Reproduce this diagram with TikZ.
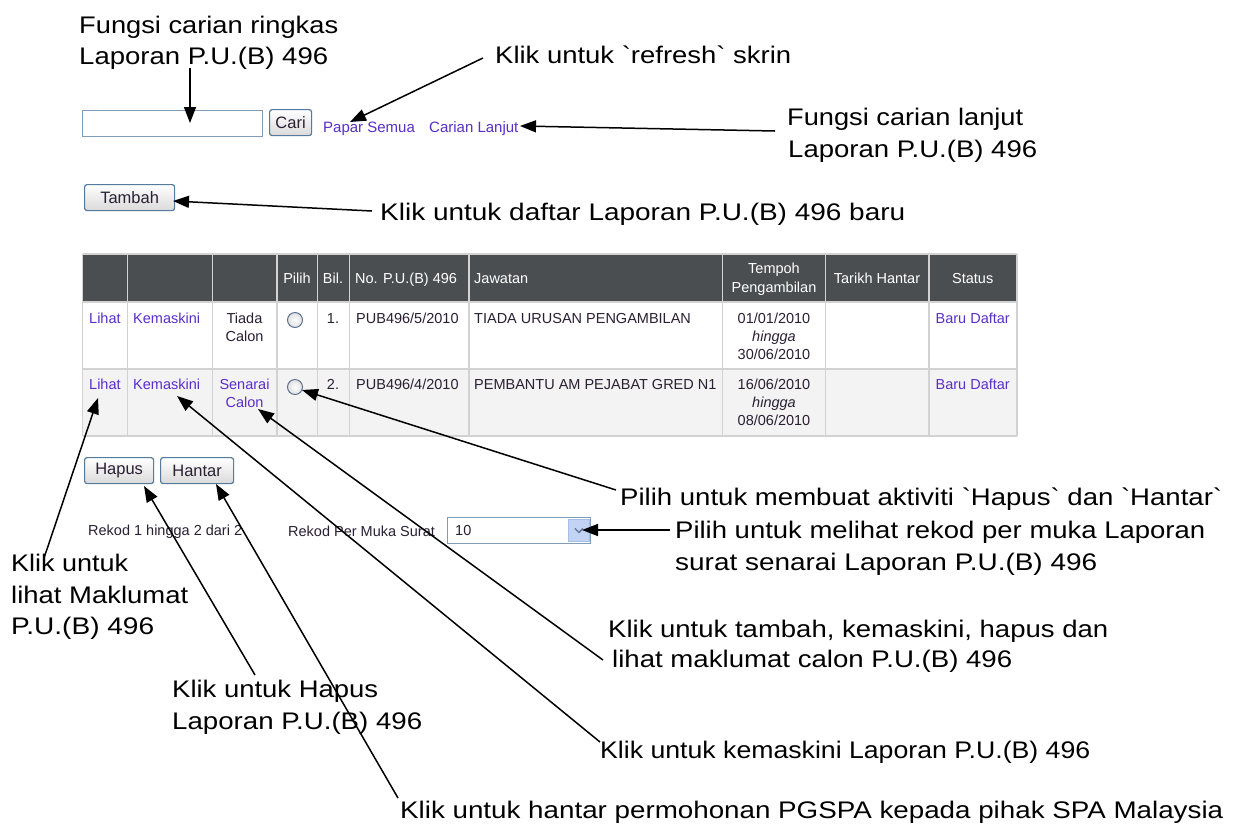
\documentclass[tikz,border=0pt]{standalone}
\usepackage{fontspec}
\setmainfont{Liberation Sans}[Ligatures=TeXOff]
\usetikzlibrary{arrows.meta,calc}
\definecolor{hdr}{HTML}{4B4E51}
\definecolor{gridc}{HTML}{D2D2D2}
\definecolor{rowb}{HTML}{F3F3F3}
\definecolor{lnk}{HTML}{5A2EC8}
\definecolor{txt}{HTML}{2A1F33}
\definecolor{btnb}{HTML}{56799E}
\definecolor{btnbot}{HTML}{DADADA}
\definecolor{fld}{HTML}{7F9DB9}
\definecolor{ddb}{HTML}{C3D3F6}
\definecolor{ddbd}{HTML}{A6BDE6}
\definecolor{radioc}{HTML}{5F7391}
\newcommand\annw[2]{\resizebox{#1pt}{\height}{#2}}
\newcommand\bq{\symbol{96}}
\begin{document}
\begin{tikzpicture}[x=1pt,y=-1pt,
  ann/.style={anchor=base west, inner sep=0pt, font=\fontsize{24}{28}\selectfont},
  callout/.style={line width=1.5pt, -{Triangle[length=16pt,width=12pt]}},
  ui/.style={font=\fontsize{14.5}{17}\selectfont, inner sep=0pt, anchor=base, text=txt},
  uiw/.style={ui, anchor=base west},
  lk/.style={ui, text=lnk},
  lkw/.style={uiw, text=lnk},
  hd/.style={ui, text=white},
  hdw/.style={uiw, text=white},
  btn/.style={draw=btnb, line width=1.2pt, rounded corners=2.5pt, top color=white, bottom color=btnbot,
     anchor=north west, inner sep=0pt, font=\fontsize{16.5}{19}\selectfont, text=txt},
  field/.style={draw=fld, line width=1pt, fill=white, anchor=north west, inner sep=0pt},
  radio/.style={circle, draw=radioc, line width=1pt, inner color=white, outer color=gray!25, minimum size=15pt, inner sep=0pt}
]
\useasboundingbox (0,0) rectangle (1233,828);
\fill[white] (0,0) rectangle (1233,828);

% ---------- search bar ----------
\node[field, minimum width=180pt, minimum height=26pt] (search) at (82,110) {};
\node[btn, minimum width=42pt, minimum height=26pt] (cari) at (269,109) {Cari};
\node[lkw, font=\fontsize{15}{17}\selectfont] (papar) at (323,132) {Papar Semua};
\node[lkw, font=\fontsize{15}{17}\selectfont] (lanjut) at (429,132) {Carian Lanjut};
\node[btn, minimum width=90pt, minimum height=26pt] (tambah) at (84,184) {Tambah};

% ---------- table ----------
\fill[hdr] (82.5,254) rectangle (1016.7,302);
\fill[white] (82.5,302) rectangle (1016.7,369);
\fill[rowb] (82.5,369) rectangle (1016.7,436);
\foreach \xx in {82.5,127.3,212.3,276.7,317.3,349.3,468.7,722.3,825.3,928.7,1016.7}
  \draw[gridc, line width=1.6pt] (\xx,254) -- (\xx,436);
\foreach \yy in {254,302,369,436}
  \draw[gridc, line width=1.6pt] (82.5,\yy) -- (1016.7,\yy);

% header
\node[hd] (hpilih) at (297,283) {Pilih};
\node[hd] (hbil) at (333,283) {Bil.};
\node[hdw] (hno) at (355,283) {No. P.U.(B) 496};
\node[hdw] (hjaw) at (474,283) {Jawatan};
\node[hd] (htem1) at (774,273) {Tempoh};
\node[hd] (htem2) at (774,292) {Pengambilan};
\node[hd] (htar) at (877,283) {Tarikh Hantar};
\node[hd] (hsta) at (972.7,283) {Status};

% row 1
\node[lkw] (lihat1) at (89,323) {Lihat};
\node[lkw] (kem1) at (133,323) {Kemaskini};
\node[ui] (tiada1) at (244.5,323) {Tiada};
\node[ui] (tiada2) at (244.5,341) {Calon};
\node[radio] (r1) at (295,320) {};
\node[ui] (bil1) at (333,323) {1.};
\node[uiw] (no1) at (356,323) {PUB496/5/2010};
\node[uiw] (jaw1) at (474,323) {TIADA URUSAN PENGAMBILAN};
\node[ui] (d1a) at (774,323) {01/01/2010};
\node[ui] (d1b) at (774,341) {\itshape hingga};
\node[ui] (d1c) at (774,359) {30/06/2010};
\node[lk] (st1) at (972.7,323) {Baru Daftar};

% row 2
\node[lkw] (lihat2) at (89,389) {Lihat};
\node[lkw] (kem2) at (133,389) {Kemaskini};
\node[lk] (sen1) at (244.5,389) {Senarai};
\node[lk] (sen2) at (244.5,407) {Calon};
\node[radio] (r2) at (295,387) {};
\node[ui] (bil2) at (333,389) {2.};
\node[uiw] (no2) at (356,389) {PUB496/4/2010};
\node[uiw] (jaw2) at (474,389) {PEMBANTU AM PEJABAT GRED N1};
\node[ui] (d2a) at (774,389) {16/06/2010};
\node[ui] (d2b) at (774,407) {\itshape hingga};
\node[ui] (d2c) at (774,425) {08/06/2010};
\node[lk] (st2) at (972.7,389) {Baru Daftar};

% ---------- buttons below ----------
\node[btn, minimum width=69pt, minimum height=26pt] (hapus) at (84,457) {Hapus};
\node[btn, minimum width=73pt, minimum height=26pt] (hantar) at (160,457) {Hantar};

\node[uiw, font=\fontsize{14.5}{17}\selectfont] (rekod) at (88,535) {Rekod 1 hingga 2 dari 2};
\node[uiw, font=\fontsize{14.5}{17}\selectfont] (perm) at (288,536) {Rekod Per Muka Surat};
\node[field, minimum width=143pt, minimum height=26pt] (sel) at (447,517) {};
\node[uiw] (selv) at (455,535) {10};
\node[draw=ddbd, fill=ddb, line width=0.8pt, anchor=north west, minimum width=21pt, minimum height=22pt, inner sep=0pt] (selbtn) at (568,519) {};
\draw[radioc, line width=1.4pt] ($(selbtn.center)+(-4,-2)$) -- ($(selbtn.center)+(0,2)$) -- ($(selbtn.center)+(4,-2)$);

% ---------- annotations ----------
\node[ann] (t1a) at (79,33) {\annw{259}{Fungsi carian ringkas}};
\node[ann] (t1b) at (79,64) {\annw{249}{Laporan P.U.(B) 496}};
\node[ann] (t2) at (495,63) {\annw{296}{Klik untuk \bq refresh\bq\ skrin}};
\node[ann] (t3a) at (787,125) {\annw{236}{Fungsi carian lanjut}};
\node[ann] (t3b) at (788,157) {\annw{249}{Laporan P.U.(B) 496}};
\node[ann] (t4) at (380,220) {\annw{525}{Klik untuk daftar Laporan P.U.(B) 496 baru}};
\node[ann] (t5) at (620,505) {\annw{602}{Pilih untuk membuat aktiviti \bq Hapus\bq\ dan \bq Hantar\bq}};
\node[ann] (t6a) at (675,538) {\annw{530}{Pilih untuk melihat rekod per muka Laporan}};
\node[ann] (t6b) at (675,570) {\annw{422}{surat senarai Laporan P.U.(B) 496}};
\node[ann] (t7a) at (11,571) {\annw{117}{Klik untuk}};
\node[ann] (t7b) at (11,603) {\annw{177}{lihat Maklumat}};
\node[ann] (t7c) at (11,634) {\annw{143}{P.U.(B) 496}};
\node[ann] (t8a) at (608,637) {\annw{500}{Klik untuk tambah, kemaskini, hapus dan}};
\node[ann] (t8b) at (612,667) {\annw{400}{lihat maklumat calon P.U.(B) 496}};
\node[ann] (t9a) at (172,697) {\annw{206}{Klik untuk Hapus}};
\node[ann] (t9b) at (172,729) {\annw{250}{Laporan P.U.(B) 496}};
\node[ann] (t10) at (600,758) {\annw{490}{Klik untuk kemaskini Laporan P.U.(B) 496}};
\node[ann] (t11) at (400,818) {\annw{823}{Klik untuk hantar permohonan PGSPA kepada pihak SPA Malaysia}};

% ---------- connectors ----------
\coordinate (a1) at (190,68);   \coordinate (b1) at (190,123);
\coordinate (a2) at (483,58);   \coordinate (b2) at (350,122);
\coordinate (a3) at (775,131);  \coordinate (b3) at (520,126);
\coordinate (a4) at (372,211);  \coordinate (b4) at (173,201);
\coordinate (a5) at (616,490);  \coordinate (b5) at (302,390);
\coordinate (a6) at (670,530);  \coordinate (b6) at (582,530);
\coordinate (a7) at (44,558);   \coordinate (b7) at (98,398);
\coordinate (a8) at (603,660);  \coordinate (b8) at (258,409);
\coordinate (a9) at (255,675);  \coordinate (b9) at (144,486);
\coordinate (a10) at (600,742); \coordinate (b10) at (177,396);
\coordinate (a11) at (398,798); \coordinate (b11) at (216,484);
\draw[callout] (a1) -- (b1);
\draw[callout] (a2) -- (b2);
\draw[callout] (a3) -- (b3);
\draw[callout] (a4) -- (b4);
\draw[callout] (a5) -- (b5);
\draw[callout] (a6) -- (b6);
\draw[callout] (a7) -- (b7);
\draw[callout] (a8) -- (b8);
\draw[callout] (a9) -- (b9);
\draw[callout] (a10) -- (b10);
\draw[callout] (a11) -- (b11);
\end{tikzpicture}
\end{document}
